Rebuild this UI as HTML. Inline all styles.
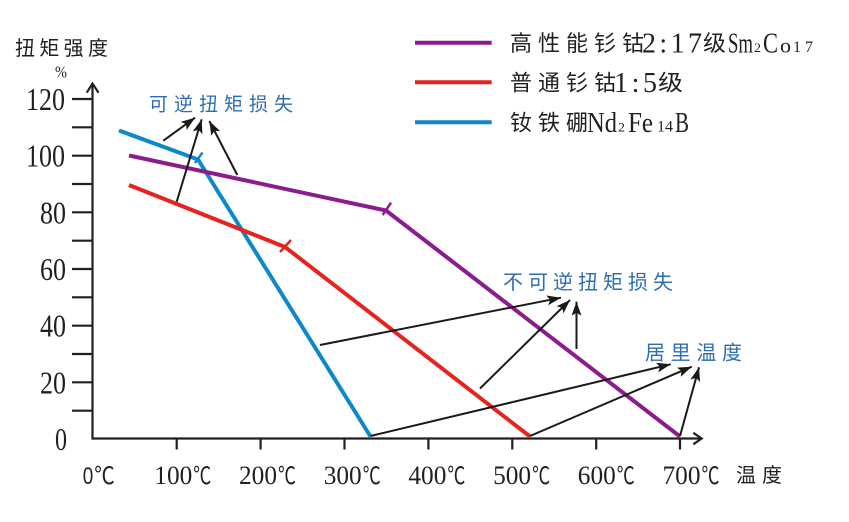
<!DOCTYPE html>
<html><head><meta charset="utf-8"><style>
html,body{margin:0;padding:0;background:#fff;}
svg{display:block;}
.cjk{font-family:"Liberation Sans","Noto Sans CJK SC",sans-serif;}
.ser{font-family:"Liberation Serif","Noto Serif CJK SC",serif;}
</style></head><body>
<svg width="849" height="522" viewBox="0 0 849 522" xmlns="http://www.w3.org/2000/svg">
<defs>
<marker id="ah" markerUnits="userSpaceOnUse" markerWidth="16" markerHeight="12" refX="14" refY="5" orient="auto">
<path d="M0,0 L14,5 L0,10 L3,5 z" fill="#1a1a1a"/>
</marker>
</defs>
<rect width="849" height="522" fill="#fff"/>

<!-- title -->
<text class="cjk" x="15" y="55" font-size="20" textLength="93" lengthAdjust="spacing" fill="#231F20">扭矩强度</text>
<text class="ser" x="55" y="77.5" font-size="17" textLength="12" lengthAdjust="spacingAndGlyphs" fill="#231F20">%</text>

<!-- axes -->
<g stroke="#231F20" stroke-width="2.2" fill="none">
<line x1="92.5" y1="439.5" x2="92.5" y2="84"/>
<polyline points="86.7,92.7 92.5,83.5 98.5,92.7"/>
<line x1="91.5" y1="438.5" x2="701" y2="438.5"/>
<polyline points="693.3,432.8 701.7,438.5 693.3,444.3"/>
<line x1="72" y1="99" x2="92.5" y2="99"/>
<line x1="72" y1="127.3" x2="92.5" y2="127.3"/>
<line x1="72" y1="155.7" x2="92.5" y2="155.7"/>
<line x1="72" y1="184" x2="92.5" y2="184"/>
<line x1="72" y1="212.3" x2="92.5" y2="212.3"/>
<line x1="72" y1="240.7" x2="92.5" y2="240.7"/>
<line x1="72" y1="269" x2="92.5" y2="269"/>
<line x1="72" y1="297.3" x2="92.5" y2="297.3"/>
<line x1="72" y1="325.7" x2="92.5" y2="325.7"/>
<line x1="72" y1="354" x2="92.5" y2="354"/>
<line x1="72" y1="382.3" x2="92.5" y2="382.3"/>
<line x1="72" y1="410.7" x2="92.5" y2="410.7"/>
<line x1="176.7" y1="438.5" x2="176.7" y2="449.5"/>
<line x1="260.6" y1="438.5" x2="260.6" y2="449.5"/>
<line x1="344.5" y1="438.5" x2="344.5" y2="449.5"/>
<line x1="428.4" y1="438.5" x2="428.4" y2="449.5"/>
<line x1="512.3" y1="438.5" x2="512.3" y2="449.5"/>
<line x1="596.2" y1="438.5" x2="596.2" y2="449.5"/>
<line x1="680" y1="438.5" x2="680" y2="449.5"/>
</g>

<!-- y labels -->
<g class="ser" font-size="32" fill="#231F20">
<text x="26" y="110" textLength="39" lengthAdjust="spacingAndGlyphs">120</text>
<text x="26" y="166.7" textLength="39" lengthAdjust="spacingAndGlyphs">100</text>
<text x="40" y="223.3" textLength="26" lengthAdjust="spacingAndGlyphs">80</text>
<text x="40" y="280" textLength="26" lengthAdjust="spacingAndGlyphs">60</text>
<text x="40" y="336.7" textLength="26" lengthAdjust="spacingAndGlyphs">40</text>
<text x="40" y="393.3" textLength="26" lengthAdjust="spacingAndGlyphs">20</text>
<text x="55" y="450" textLength="12" lengthAdjust="spacingAndGlyphs">0</text>
</g>

<!-- x labels -->
<g fill="#231F20">
<text x="82.7" y="484" font-family="Liberation Sans, sans-serif" font-size="24" textLength="10.5" lengthAdjust="spacingAndGlyphs">0</text>
<text class="cjk" x="94.3" y="484" font-size="24" textLength="20.5" lengthAdjust="spacingAndGlyphs">℃</text>
<g class="ser" font-size="26">
<text x="154.3" y="484" textLength="38" lengthAdjust="spacingAndGlyphs">100</text>
<text x="239" y="484" textLength="38" lengthAdjust="spacingAndGlyphs">200</text>
<text x="323.7" y="484" textLength="38" lengthAdjust="spacingAndGlyphs">300</text>
<text x="408.4" y="484" textLength="38" lengthAdjust="spacingAndGlyphs">400</text>
<text x="493.1" y="484" textLength="38" lengthAdjust="spacingAndGlyphs">500</text>
<text x="577.8" y="484" textLength="38" lengthAdjust="spacingAndGlyphs">600</text>
<text x="662.5" y="484" textLength="38" lengthAdjust="spacingAndGlyphs">700</text>
</g>
<g class="cjk" font-size="24">
<text x="193.3" y="484" textLength="18" lengthAdjust="spacingAndGlyphs">℃</text>
<text x="278" y="484" textLength="18" lengthAdjust="spacingAndGlyphs">℃</text>
<text x="362.7" y="484" textLength="18" lengthAdjust="spacingAndGlyphs">℃</text>
<text x="447.4" y="484" textLength="18" lengthAdjust="spacingAndGlyphs">℃</text>
<text x="532.1" y="484" textLength="18" lengthAdjust="spacingAndGlyphs">℃</text>
<text x="616.8" y="484" textLength="18" lengthAdjust="spacingAndGlyphs">℃</text>
<text x="701.5" y="484" textLength="18" lengthAdjust="spacingAndGlyphs">℃</text>
</g>
<text class="cjk" x="736" y="482" font-size="20" textLength="46" lengthAdjust="spacing">温度</text>
</g>

<!-- series -->
<g fill="none" stroke-linejoin="round">
<polyline points="119,130.5 198,159.5 370.5,436.5" stroke="#0E88C8" stroke-width="4"/>
<polyline points="129,155.5 386,210.5 680,436.5" stroke="#8A1C8C" stroke-width="4"/>
<polyline points="129,185 285,247 530,436.5" stroke="#E5231F" stroke-width="4"/>
<line x1="195" y1="163" x2="202.5" y2="152.5" stroke="#0E88C8" stroke-width="2.5"/>
<line x1="382.7" y1="215" x2="391" y2="202.7" stroke="#8A1C8C" stroke-width="2.5"/>
<line x1="280" y1="252" x2="291" y2="240" stroke="#E5231F" stroke-width="2.5"/>
</g>

<!-- arrows -->
<g stroke="#1a1a1a" stroke-width="2" fill="none" marker-end="url(#ah)">
<line x1="163.3" y1="140.7" x2="195" y2="117.7"/>
<line x1="176.7" y1="201.7" x2="201.7" y2="119.3"/>
<line x1="237.3" y1="175" x2="209.3" y2="121"/>
<line x1="320" y1="345" x2="561" y2="297.7"/>
<line x1="480" y1="388.5" x2="570" y2="300"/>
<line x1="576.5" y1="349" x2="576.5" y2="301.7"/>
<line x1="370.5" y1="436" x2="670.7" y2="364.3"/>
<line x1="530" y1="436" x2="691.7" y2="366.7"/>
<line x1="680" y1="436" x2="699" y2="367.3"/>
</g>

<!-- annotations -->
<g class="cjk" fill="#2E6DB4" font-size="19">
<text x="149" y="110.5" textLength="144" lengthAdjust="spacing">可逆扭矩损失</text>
<text x="503" y="289" font-size="20" textLength="170" lengthAdjust="spacing">不可逆扭矩损失</text>
<text x="645" y="359.5" font-size="20" textLength="97" lengthAdjust="spacing">居里温度</text>
</g>

<!-- legend -->
<g stroke-width="4">
<line x1="415" y1="42.7" x2="491.7" y2="42.7" stroke="#8A1C8C"/>
<line x1="415" y1="82.3" x2="491.7" y2="82.3" stroke="#E5231F"/>
<line x1="415" y1="122.3" x2="491.7" y2="122.3" stroke="#0E88C8"/>
</g>
<g fill="#231F20">
<text class="cjk" x="510" y="51" font-size="22" textLength="134" lengthAdjust="spacing">高性能钐钴</text>
<text class="ser" x="642" y="52.5" font-size="28" textLength="60" lengthAdjust="spacing">2:17</text>
<text class="cjk" x="703" y="51" font-size="22" textLength="23" lengthAdjust="spacingAndGlyphs">级</text>
<text class="ser" x="728" y="52.5" font-size="28" textLength="25" lengthAdjust="spacingAndGlyphs">Sm</text>
<text class="ser" x="754" y="52" font-size="13" textLength="7" lengthAdjust="spacingAndGlyphs">2</text>
<text class="ser" x="763" y="52.5" font-size="28" textLength="15" lengthAdjust="spacingAndGlyphs">C</text>
<text class="ser" x="780" y="52.5" font-size="21" textLength="11" lengthAdjust="spacingAndGlyphs">o</text>
<text class="ser" x="793" y="52" font-size="16" textLength="20" lengthAdjust="spacing">17</text>

<text class="cjk" x="510" y="90.5" font-size="22" textLength="106" lengthAdjust="spacing">普通钐钴</text>
<text class="ser" x="614" y="92" font-size="28" textLength="43" lengthAdjust="spacing">1:5</text>
<text class="cjk" x="658" y="90.5" font-size="22" textLength="25" lengthAdjust="spacingAndGlyphs">级</text>

<text class="cjk" x="510" y="130.5" font-size="22" textLength="78" lengthAdjust="spacing">钕铁硼</text>
<text class="ser" x="587" y="132" font-size="28" textLength="30" lengthAdjust="spacingAndGlyphs">Nd</text>
<text class="ser" x="618" y="131.5" font-size="13" textLength="7" lengthAdjust="spacingAndGlyphs">2</text>
<text class="ser" x="628" y="132" font-size="28" textLength="25" lengthAdjust="spacingAndGlyphs">Fe</text>
<text class="ser" x="657" y="131.5" font-size="16" textLength="16" lengthAdjust="spacing">14</text>
<text class="ser" x="675" y="132" font-size="28" textLength="14" lengthAdjust="spacingAndGlyphs">B</text>
</g>
</svg>
</body></html>
